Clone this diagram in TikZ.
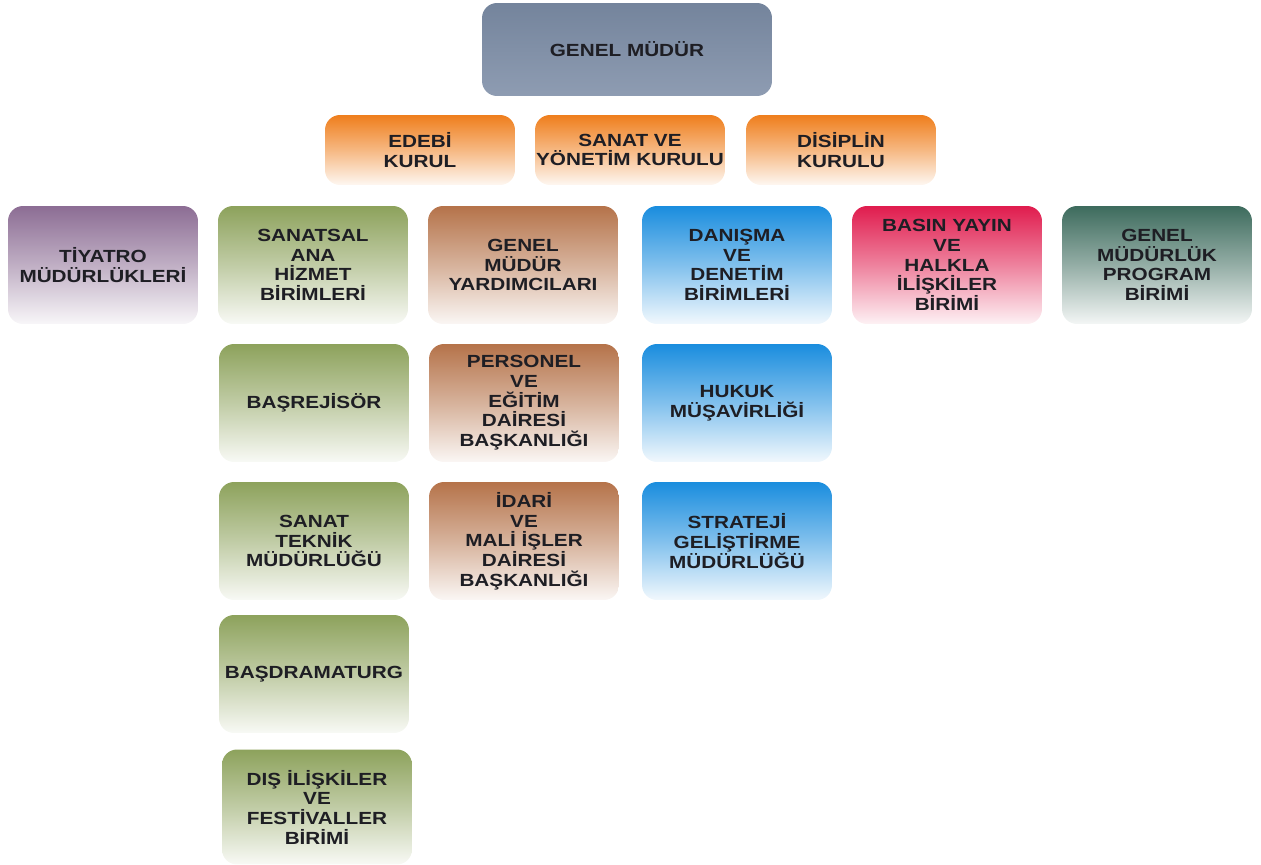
\documentclass[tikz,border=0pt]{standalone}
\usepackage{fontspec}
\setmainfont[FakeStretch=1.18]{Liberation Sans}
\definecolor{gmust}{HTML}{74849C}
\definecolor{gmalt}{HTML}{8E9CB2}
\definecolor{turuncu}{HTML}{EF7E1C}
\definecolor{mor}{HTML}{8C6D94}
\definecolor{yesil}{HTML}{8DA25C}
\definecolor{kahve}{HTML}{B5734A}
\definecolor{mavi}{HTML}{1A8DDE}
\definecolor{kirmizi}{HTML}{E01C4E}
\definecolor{petrol}{HTML}{3D6B5D}
\definecolor{metin}{HTML}{1E1E24}

\begin{document}
\begin{tikzpicture}[x=0.02cm, y=-0.02cm,
	birim/.style={rounded corners=0.3cm, minimum width=3.8cm, minimum height=2.36cm,
		inner sep=0, align=center, text=metin, font=\fontsize{10}{11.2}\selectfont\bfseries,
		top color=#1, bottom color=#1!6, middle color=#1!55},
	kurul/.style={birim=turuncu, minimum height=1.4cm}]
	\useasboundingbox (0,0) rectangle (1261,865);

	\node[birim=gmust, top color=gmust, bottom color=gmalt, middle color=gmust!50!gmalt,
		minimum width=5.8cm, minimum height=1.86cm] (gm) at (627,49.5) {GENEL MÜDÜR};

	\node[kurul] (edebi) at (420,150) {EDEBİ\\KURUL};
	\node[kurul] (sanat) at (630,150) {SANAT VE\\YÖNETİM KURULU};
	\node[kurul] (disiplin) at (841,150) {DİSİPLİN\\KURULU};

	\node[birim=mor] (tiyatro) at (103,265) {TİYATRO\\MÜDÜRLÜKLERİ};
	\node[birim=yesil] (sanatsal) at (313,265) {SANATSAL\\ANA\\HİZMET\\BİRİMLERİ};
	\node[birim=kahve] (yardimci) at (523,265) {GENEL\\MÜDÜR\\YARDIMCILARI};
	\node[birim=mavi] (danisma) at (737,265) {DANIŞMA\\VE\\DENETİM\\BİRİMLERİ};
	\node[birim=kirmizi] (basin) at (947,265) {BASIN YAYIN\\VE\\HALKLA\\İLİŞKİLER\\BİRİMİ};
	\node[birim=petrol] (program) at (1157,265) {GENEL\\MÜDÜRLÜK\\PROGRAM\\BİRİMİ};

	\node[birim=yesil] (basrejisor) at (314,403) {BAŞREJİSÖR};
	\node[birim=kahve] (personel) at (524,403) {PERSONEL\\VE\\EĞİTİM\\DAİRESİ\\BAŞKANLIĞI};
	\node[birim=mavi] (hukuk) at (737,403) {HUKUK\\MÜŞAVİRLİĞİ};

	\node[birim=yesil] (teknik) at (314,541) {SANAT\\TEKNİK\\MÜDÜRLÜĞÜ};
	\node[birim=kahve] (idari) at (524,541) {İDARİ\\VE\\MALİ İŞLER\\DAİRESİ\\BAŞKANLIĞI};
	\node[birim=mavi] (strateji) at (737,541) {STRATEJİ\\GELİŞTİRME\\MÜDÜRLÜĞÜ};

	\node[birim=yesil] (dramaturg) at (314,674) {BAŞDRAMATURG};
	\node[birim=yesil, minimum height=2.3cm] (dis) at (317,807) {DIŞ İLİŞKİLER\\VE\\FESTİVALLER\\BİRİMİ};

\end{tikzpicture}
\end{document}
